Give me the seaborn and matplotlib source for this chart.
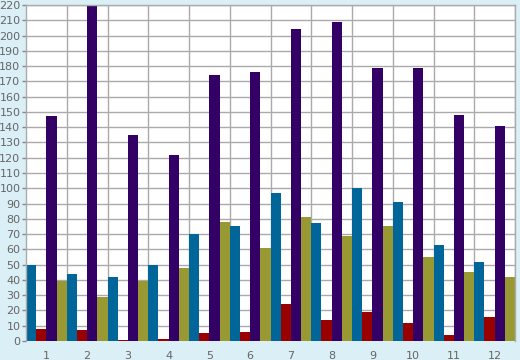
import numpy as np
import pandas as pd
import seaborn as sns
import matplotlib.pyplot as plt
from matplotlib.ticker import MultipleLocator, FixedLocator

# Chart data
categories = [str(i) for i in range(1, 13)]
series_names = ["A", "B", "C", "D"]
series_a = [50, 44, 42, 50, 70, 75, 97, 77, 100, 91, 63, 52]
series_b = [8, 7, 0.5, 1, 5, 6, 24, 13.5, 19, 12, 4, 15.5]
series_c = [147, 220, 135, 122, 174, 176, 204, 209, 179, 179, 148, 141]
series_d = [39, 29, 39, 48, 78, 61, 81, 69, 75, 55, 45, 42]
colors = ["#006699", "#990000", "#330066", "#999933"]

df = pd.DataFrame({
    "category": categories * 4,
    "series": np.repeat(series_names, len(categories)),
    "value": series_a + series_b + series_c + series_d,
})

sns.set_style("white")
bg = "#daeff6"
fig = plt.figure(figsize=(5.2, 3.6), dpi=100, facecolor=bg)
ax = fig.add_axes([26 / 520, 19 / 360, 489 / 520, 336 / 360])
ax.set_facecolor("white")

sns.barplot(data=df, x="category", y="value", hue="series", order=categories,
            hue_order=series_names, palette=colors, width=1.0, gap=0,
            saturation=1, linewidth=0, edgecolor="none", legend=False, ax=ax)

ax.set_xlim(-0.5, 11.5)
ax.set_ylim(0, 220)
ax.yaxis.set_major_locator(MultipleLocator(10))

# vertical grid at category boundaries
ax.xaxis.set_minor_locator(FixedLocator(np.arange(0.5, 12, 1)))
ax.grid(True, which="minor", axis="x", color="#aaaaaa", linewidth=1)
ax.grid(True, which="major", axis="y", color="#aaaaaa", linewidth=1)
ax.set_axisbelow(True)

ax.tick_params(axis="x", which="major", length=0, pad=7, labelsize=8, labelcolor="#666666")
ax.tick_params(axis="x", which="minor", length=4, width=1, color="#888888", direction="out")
ax.tick_params(axis="y", which="major", length=3, width=1, color="#888888", pad=1,
               labelsize=8, labelcolor="#666666", left=True)

for side in ["left", "right", "top"]:
    ax.spines[side].set_color("#aaaaaa")
    ax.spines[side].set_linewidth(1)
ax.spines["bottom"].set_visible(False)

ax.set_xlabel("")
ax.set_ylabel("")

fig.savefig("out.png", dpi=100, facecolor=bg)
